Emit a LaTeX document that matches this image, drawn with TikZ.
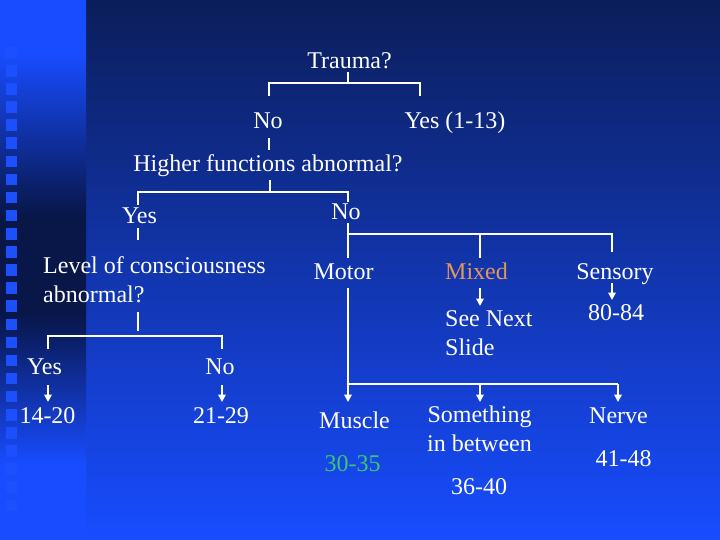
\documentclass[tikz,border=0pt]{standalone}
\usepackage{fontspec}
\setmainfont{Liberation Serif}
\usetikzlibrary{arrows.meta}
\definecolor{bgtop}{RGB}{11,30,90}
\definecolor{bgbot}{RGB}{24,76,255}
\definecolor{stripdark}{RGB}{8,22,72}
\definecolor{sqc}{RGB}{28,80,255}
\definecolor{mixedc}{RGB}{226,150,92}
\definecolor{greenc}{RGB}{60,200,110}
\pgfdeclareverticalshading{stripshade}{100bp}{color(0bp)=(bgbot); color(32bp)=(bgbot); color(46bp)=(stripdark); color(55bp)=(stripdark); color(70bp)=(bgbot); color(100bp)=(bgbot)}
\begin{document}
\begin{tikzpicture}[x=1pt,y=-1pt,
  lbl/.style={text=white, inner sep=0pt, font=\fontsize{24}{28.5}\selectfont, anchor=base},
  conn/.style={draw=white, line width=1.8pt},
  arr/.style={conn, -{Triangle[width=7.5pt,length=7.5pt]}},
  sq/.style={fill=sqc, draw=none}
]
\useasboundingbox (0,0) rectangle (720,540);
% background
\shade[top color=bgtop, bottom color=bgbot] (86,0) rectangle (720,540);
\shade[shading=stripshade] (0,0) rectangle (86,540);
\foreach \k in {0,...,25} {
  \fill[sq] (6,{47+18.1*\k}) rectangle (17,{58.5+18.1*\k});
}
% texts
\node[lbl] (trauma) at (349.5,69) {Trauma?};
\node[lbl] (no1) at (268,129) {No};
\node[lbl] (yes1) at (455,129) {Yes (1-13)};
\node[lbl] (higher) at (268,172) {Higher functions abnormal?};
\node[lbl] (yes2) at (139.5,224) {Yes};
\node[lbl] (no2) at (346,219) {No};
\node[lbl, anchor=base west, align=left] (loc) at (43,302) {Level of consciousness\\abnormal?};
\node[lbl] (yes3) at (44.5,374) {Yes};
\node[lbl] (no3) at (220,374) {No};
\node[lbl] (r1420) at (47.5,423) {14-20};
\node[lbl] (r2129) at (221,423) {21-29};
\node[lbl] (motor) at (343.5,279) {Motor};
\node[lbl, text=mixedc] (mixed) at (476.5,279) {Mixed};
\node[lbl] (sensory) at (615,279) {Sensory};
\node[lbl, anchor=base west, align=left] (seenext) at (445,355) {See Next\\Slide};
\node[lbl] (r8084) at (616,320) {80-84};
\node[lbl] (muscle) at (354.5,428) {Muscle};
\node[lbl, text=greenc] (r3035) at (352.5,471) {30-35};
\node[lbl, align=center] (between) at (479.5,451) {Something\\in between};
\node[lbl] (r3640) at (479,494) {36-40};
\node[lbl] (nerve) at (618.5,423) {Nerve};
\node[lbl] (r4148) at (623.5,466) {41-48};
% connector points
\coordinate (t0) at (348,72);   \coordinate (tbar) at (0,83);
\coordinate (tL) at (269,96);   \coordinate (tR) at (420,96);
\coordinate (n1a) at (269,138); \coordinate (n1b) at (269,150);
\coordinate (h0) at (270,180);  \coordinate (hbar) at (0,192);
\coordinate (hL) at (138,205);  \coordinate (hR) at (348,202);
\coordinate (y2a) at (138,228); \coordinate (y2b) at (138,240);
\coordinate (l0) at (138,312);  \coordinate (l1) at (138,331);
\coordinate (lbar) at (0,336);
\coordinate (lL) at (48,349);   \coordinate (lR) at (222,349);
\coordinate (ay) at (48,385);   \coordinate (an) at (222,385);
\coordinate (ayt) at (48,402);  \coordinate (ant) at (222,402);
\coordinate (n2a) at (348,223); \coordinate (n2b) at (348,258);
\coordinate (nbar) at (0,234);
\coordinate (mxd) at (480,258); \coordinate (sns) at (612,252);
\coordinate (mxa) at (480,288); \coordinate (mxb) at (480,306);
\coordinate (sna) at (612,283); \coordinate (snb) at (612,300);
\coordinate (mo0) at (348,288); \coordinate (mbar) at (0,384);
\coordinate (tipM) at (348,402); \coordinate (tipS) at (480,402); \coordinate (tipN) at (618,402);
% connectors
\draw[conn] (t0) -- (t0 |- tbar);
\draw[conn] (tL) -- (tL |- tbar) -- (tR |- tbar) -- (tR);
\draw[conn] (n1a) -- (n1b);
\draw[conn] (h0) -- (h0 |- hbar);
\draw[conn] (hL) -- (hL |- hbar) -- (hR |- hbar) -- (hR);
\draw[conn] (y2a) -- (y2b);
\draw[conn] (l0) -- (l1);
\draw[conn] (lL) -- (lL |- lbar) -- (lR |- lbar) -- (lR);
\draw[arr] (ay) -- (ayt);
\draw[arr] (an) -- (ant);
\draw[conn] (n2a) -- (n2b);
\draw[conn] (n2a |- nbar) -- (sns |- nbar) -- (sns);
\draw[conn] (mxd |- nbar) -- (mxd);
\draw[arr] (mxa) -- (mxb);
\draw[arr] (sna) -- (snb);
\draw[conn] (mo0) -- (mo0 |- mbar) -- (tipN |- mbar);
\draw[arr] (mo0 |- mbar) -- (tipM);
\draw[arr] (tipS |- mbar) -- (tipS);
\draw[arr] (tipN |- mbar) -- (tipN);
\end{tikzpicture}
\end{document}
